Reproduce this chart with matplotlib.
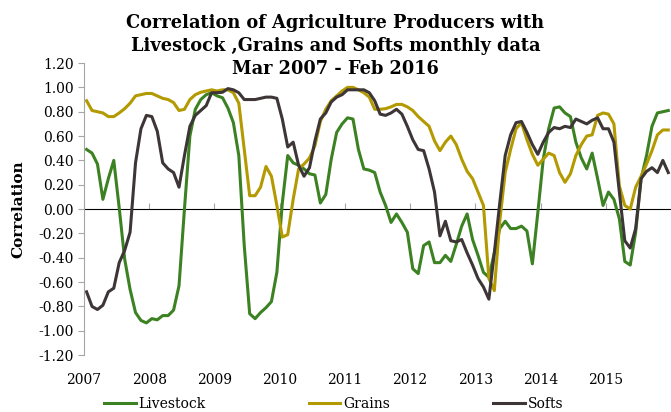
import matplotlib
matplotlib.use("Agg")
import matplotlib.pyplot as plt
from matplotlib.ticker import FormatStrFormatter

# monthly rolling correlations, Mar 2007 .. Feb 2016
livestock = [0.49, 0.46, 0.37, 0.08, 0.25, 0.40, 0.01, -0.41, -0.66, -0.85,
             -0.915, -0.935, -0.90, -0.91, -0.875, -0.875, -0.83, -0.63, 0.00, 0.60,
             0.82, 0.90, 0.94, 0.956, 0.93, 0.915, 0.83, 0.71, 0.44, -0.30,
             -0.86, -0.90, -0.85, -0.81, -0.76, -0.52, 0.05, 0.44, 0.38, 0.36,
             0.33, 0.29, 0.28, 0.05, 0.12, 0.41, 0.63, 0.70, 0.75, 0.74,
             0.49, 0.33, 0.32, 0.30, 0.14, 0.03, -0.11, -0.04, -0.11, -0.19,
             -0.49, -0.53, -0.30, -0.27, -0.44, -0.44, -0.38, -0.43, -0.29, -0.14,
             -0.04, -0.25, -0.38, -0.52, -0.56, -0.36, -0.16, -0.10, -0.16, -0.16,
             -0.14, -0.18, -0.45, -0.03, 0.41, 0.66, 0.83, 0.84, 0.79, 0.76,
             0.55, 0.42, 0.33, 0.46, 0.25, 0.03, 0.14, 0.08, -0.08, -0.43,
             -0.46, -0.19, 0.25, 0.44, 0.68, 0.79, 0.80, 0.81]
grains = [0.89, 0.81, 0.80, 0.79, 0.76, 0.76, 0.79, 0.825, 0.87, 0.93,
          0.94, 0.95, 0.95, 0.93, 0.91, 0.90, 0.875, 0.81, 0.82, 0.90,
          0.94, 0.96, 0.97, 0.98, 0.97, 0.98, 0.98, 0.956, 0.87, 0.49,
          0.11, 0.11, 0.18, 0.35, 0.27, 0.03, -0.23, -0.21, 0.08, 0.33,
          0.37, 0.42, 0.52, 0.72, 0.82, 0.89, 0.93, 0.97, 1.00, 1.00,
          0.98, 0.956, 0.92, 0.82, 0.82, 0.825, 0.84, 0.86, 0.86, 0.84,
          0.81, 0.76, 0.72, 0.68, 0.56, 0.48, 0.55, 0.60, 0.53, 0.41,
          0.31, 0.25, 0.14, 0.03, -0.57, -0.67, -0.10, 0.30, 0.49, 0.66,
          0.71, 0.57, 0.45, 0.36, 0.41, 0.46, 0.44, 0.30, 0.22, 0.29,
          0.44, 0.53, 0.60, 0.61, 0.77, 0.79, 0.78, 0.70, 0.19, 0.03,
          0.00, 0.18, 0.27, 0.37, 0.48, 0.61, 0.65, 0.65]
softs = [-0.68, -0.80, -0.825, -0.79, -0.68, -0.65, -0.44, -0.34, -0.19, 0.38,
         0.66, 0.77, 0.76, 0.64, 0.38, 0.33, 0.30, 0.18, 0.44, 0.68,
         0.77, 0.81, 0.85, 0.956, 0.956, 0.96, 0.99, 0.98, 0.956, 0.90,
         0.90, 0.90, 0.91, 0.92, 0.92, 0.91, 0.74, 0.51, 0.55, 0.36,
         0.27, 0.34, 0.56, 0.74, 0.79, 0.88, 0.92, 0.94, 0.98, 0.98,
         0.98, 0.98, 0.956, 0.89, 0.78, 0.77, 0.79, 0.82, 0.78, 0.68,
         0.57, 0.49, 0.48, 0.33, 0.14, -0.22, -0.10, -0.26, -0.27, -0.25,
         -0.36, -0.46, -0.57, -0.64, -0.74, -0.36, 0.05, 0.44, 0.61, 0.71,
         0.72, 0.63, 0.53, 0.45, 0.55, 0.63, 0.67, 0.66, 0.68, 0.67,
         0.74, 0.72, 0.70, 0.73, 0.75, 0.66, 0.66, 0.55, 0.14, -0.26,
         -0.32, -0.16, 0.25, 0.31, 0.34, 0.30, 0.40, 0.30]
years = ["2007", "2008", "2009", "2010", "2011", "2012", "2013", "2014", "2015"]

serif = "DejaVu Serif"
fig = plt.figure(figsize=(6.71, 4.12), dpi=100)
ax = fig.add_axes([0.125, 0.138, 0.875, 0.709])

x = [i + 0.5 for i in range(len(livestock))]
ax.plot(x, livestock, color="#3c8223", lw=2.2, label="Livestock")
ax.plot(x, grains, color="#b39a00", lw=2.2, label="Grains")
ax.plot(x, softs, color="#3d3536", lw=2.2, label="Softs")

ax.set_xlim(0, len(livestock))
ax.set_ylim(-1.2, 1.2)
ax.set_yticks([i / 10 for i in range(-12, 13, 2)])
ax.yaxis.set_major_formatter(FormatStrFormatter("%.2f"))
ax.set_xticks([12 * i for i in range(len(years))])
ax.set_xticklabels(years)
for s in ["top", "right", "bottom"]:
    ax.spines[s].set_visible(False)
ax.spines["left"].set_color("#a6a6a6")
ax.tick_params(axis="y", colors="#a6a6a6", labelcolor="black", length=4, labelsize=10)
ax.tick_params(axis="x", length=0, labelsize=10, pad=13)
for lab in ax.get_xticklabels() + ax.get_yticklabels():
    lab.set_family(serif)

# zero line with the year ticks
zero = ax.secondary_xaxis(0.5)
zero.set_xticks([12 * i for i in range(len(years))])
zero.set_xticklabels([])
zero.spines["bottom"].set_color("#a6a6a6")
zero.tick_params(length=4, colors="#a6a6a6")

ax.set_ylabel("Correlation", family=serif, fontweight="bold", fontsize=11, labelpad=9)

fig.text(0.5, 1 - 46 / 412, "Correlation of Agriculture Producers with\n"
         "Livestock ,Grains and Softs monthly data\nMar 2007 - Feb 2016",
         ha="center", va="center", family=serif, fontweight="bold",
         fontsize=12.8, linespacing=1.35)

fig.legend(loc="center", bbox_to_anchor=(0.497, 0.02), ncol=3, frameon=False,
           handlelength=2.3, handletextpad=0.2, columnspacing=7.4,
           prop={"family": serif, "size": 10})

fig.savefig("out.png", dpi=100)
